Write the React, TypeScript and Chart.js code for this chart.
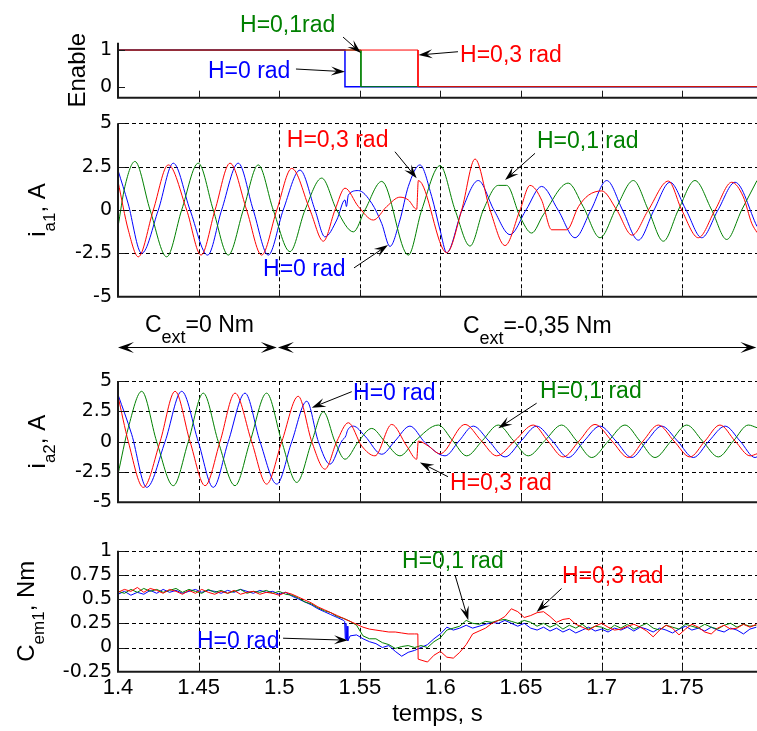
import React, { useEffect, useRef } from 'react';
import { Chart, registerables } from 'chart.js';
Chart.register(...registerables);

const FONT = '"Liberation Sans", Arial, Helvetica, sans-serif';
const TICK_FONT = '"DejaVu Sans", Verdana, sans-serif';
const RED = '#FF0000';
const GREEN = '#008000';
const BLUE = '#0000FF';

const X_MIN = 1.4;
const X_MAX = 1.7964;
const X_TICKS = [1.4, 1.45, 1.5, 1.55, 1.6, 1.65, 1.7, 1.75];
const X_TICK_LABELS = ['1.4', '1.45', '1.5', '1.55', '1.6', '1.65', '1.7', '1.75'];

// ---- Enable ----
const enRedT = [1.4, 1.5861, 1.5861, 1.7964];
const enRedV = [1, 1, 0, 0];
const enGreenT = [1.4, 1.5507, 1.5507, 1.7964];
const enGreenV = [1, 1, 0, 0];
const enBlueT = [1.4, 1.5408, 1.5408, 1.7964];
const enBlueV = [1, 1, 0, 0];

// ---- i_a1 ----
const ia1RedT = [1.4000,1.4064,1.4126,1.4219,1.4312,1.4426,1.4515,1.4602,1.4695,1.4798,1.4891,1.4985,1.5078,1.5191,1.5274,1.5346,1.5408,1.5491,1.5584,1.5667,1.5749,1.5801,1.5853,1.5863,1.6039,1.6132,1.6215,1.6308,1.6401,1.6494,1.6556,1.6628,1.6690,1.6784,1.6856,1.6918,1.7001,1.7094,1.7189,1.7290,1.7414,1.7497,1.7600,1.7704,1.7807,1.7879,1.7931,1.7964];
const ia1RedV = [1.65,-1.16,-2.7,0,2.6,0,-2.6,0,2.7,0,-2.6,0,2.4,0,-1.8,0,1.26,0.2,-0.58,0.2,0.74,0.58,0.04,1.7,-2.46,0,2.94,0,-2.05,0,1.42,0.57,-1.14,-1.14,0.19,0.85,1.1,0,-1.45,0,1.67,0,-1.6,0,1.6,0.76,-0.76,-1.3];
const ia1BlueT = [1.4000,1.4062,1.4147,1.4250,1.4343,1.4447,1.4556,1.4643,1.4746,1.4839,1.4932,1.5025,1.5129,1.5222,1.5284,1.5357,1.5408,1.5417,1.5429,1.5491,1.5574,1.5636,1.5687,1.5749,1.5801,1.5873,1.5946,1.5998,1.6039,1.6134,1.6235,1.6332,1.6432,1.6531,1.6628,1.6730,1.6835,1.6934,1.7032,1.7130,1.7228,1.7325,1.7424,1.7524,1.7621,1.7722,1.7828,1.7964];
const ia1BlueV = [2.3,0.4,-2.5,0,2.7,0,-2.6,0,2.7,0,-2.6,0,2.3,0,-1.55,-0.58,0.58,0.2,0.87,1.12,0.39,-0.78,-2.1,-0.58,1.36,2.6,0.78,-1.16,-2.46,0,1.7,0,-1.42,0,1.36,0,-1.6,0,1.7,0,-1.74,0,1.6,0,-1.6,0,1.6,-0.95];
const ia1GreenT = [1.4000,1.4043,1.4105,1.4199,1.4302,1.4395,1.4498,1.4591,1.4684,1.4777,1.4870,1.4963,1.5067,1.5160,1.5264,1.5357,1.5460,1.5532,1.5636,1.5801,1.5884,1.5998,1.6091,1.6184,1.6266,1.6359,1.6411,1.6494,1.6566,1.6638,1.6793,1.6886,1.6990,1.7094,1.7197,1.7290,1.7383,1.7476,1.7579,1.7683,1.7776,1.7869,1.7964];
const ia1GreenV = [-0.97,1.36,2.8,0,-2.7,0,2.7,0,-2.6,0,2.6,0,-2.4,0,1.84,0,-1.26,0,1.65,-2.6,0,2.56,0,-2.08,0,1.42,1.42,-0.38,-1.33,-0.28,1.55,0.19,-1.6,0.19,1.7,0,-1.8,0,1.7,0,-1.7,0,1.7];

// ---- i_a2 ----
const ia2RedT = [1.4000,1.4064,1.4157,1.4261,1.4354,1.4447,1.4540,1.4633,1.4726,1.4829,1.4922,1.5016,1.5118,1.5202,1.5284,1.5357,1.5429,1.5512,1.5594,1.5698,1.5791,1.5853,1.5863,1.5925,1.5998,1.6153,1.6252,1.6349,1.6463,1.6576,1.6667,1.6762,1.6860,1.6959,1.7064,1.7166,1.7257,1.7352,1.7449,1.7548,1.7641,1.7734,1.7828,1.7921,1.7964];
const ia2RedV = [3.75,0,-3.77,0,4.15,0,-3.63,0,4.0,0,-3.5,0,3.74,0,-2.27,0,1.56,-0.36,-1.17,1.42,-0.36,-1.45,0.05,-0.36,-1.0,1.42,0.1,-1.17,0.1,1.37,0.05,-1.26,0.05,1.42,0.05,-1.31,0.05,1.37,0.05,-1.26,0.05,1.37,0.05,-1.17,-1.0];
const ia2BlueT = [1.4000,1.4085,1.4178,1.4292,1.4395,1.4498,1.4591,1.4684,1.4788,1.4881,1.4985,1.5078,1.5171,1.5243,1.5315,1.5388,1.5414,1.5423,1.5460,1.5532,1.5636,1.5718,1.5811,1.5905,1.6029,1.6115,1.6204,1.6301,1.6401,1.6500,1.6597,1.6695,1.6793,1.6891,1.6990,1.7089,1.7187,1.7280,1.7373,1.7471,1.7569,1.7666,1.7766,1.7859,1.7952,1.7964];
const ia2BlueV = [3.88,0.6,-3.77,0,4.15,0,-3.77,0,4.0,0,-3.5,0,3.33,0,-1.86,0.05,0.5,0.9,1.28,0.46,-1.04,0.05,1.28,-0.08,-1.17,0.05,1.28,0.05,-1.26,0.05,1.28,0.05,-1.31,0.05,1.28,0.05,-1.31,0.05,1.28,0.05,-1.31,0.05,1.28,0.05,-1.31,-1.25];
const ia2GreenT = [1.4000,1.4064,1.4147,1.4240,1.4343,1.4436,1.4529,1.4622,1.4726,1.4819,1.4922,1.5016,1.5109,1.5202,1.5274,1.5346,1.5408,1.5491,1.5574,1.5656,1.5749,1.5842,1.5987,1.6075,1.6163,1.6261,1.6359,1.6452,1.6545,1.6649,1.6752,1.6846,1.6939,1.7042,1.7145,1.7238,1.7331,1.7431,1.7528,1.7626,1.7724,1.7817,1.7910,1.7964];
const ia2GreenV = [-2.68,1.15,4.15,0,-3.63,0,4.0,0,-3.63,0,4.0,0,-3.36,0,2.46,0,-1.45,0,1.09,0,-1.17,0.05,1.37,0.1,-1.17,0.1,1.37,0.1,-1.17,0.1,1.37,0.05,-1.31,0.05,1.37,0.05,-1.31,0.05,1.37,0.05,-1.26,0.05,1.37,1.15];

// ---- C_em1 ----
const cemT = [1.400,1.404,1.408,1.412,1.416,1.420,1.424,1.428,1.432,1.436,1.440,1.444,1.448,1.452,1.456,1.460,1.464,1.468,1.472,1.476,1.480,1.484,1.488,1.492,1.496,1.500,1.504,1.508,1.512,1.516,1.520,1.524,1.528,1.532,1.536,1.540,1.544,1.548,1.552,1.556,1.560,1.564,1.568,1.572,1.576,1.580,1.584,1.588,1.592,1.596,1.600,1.604,1.608,1.612,1.616,1.620,1.624,1.628,1.632,1.636,1.640,1.644,1.648,1.652,1.656,1.660,1.664,1.668,1.672,1.676,1.680,1.684,1.688,1.692,1.696,1.700,1.704,1.708,1.712,1.716,1.720,1.724,1.728,1.732,1.736,1.740,1.744,1.748,1.752,1.756,1.760,1.764,1.768,1.772,1.776,1.780,1.784,1.788,1.792,1.796];
const cemRedV = [0.57,0.60,0.58,0.62,0.57,0.61,0.59,0.56,0.60,0.58,
  0.55,0.59,0.56,0.60,0.57,0.55,0.58,0.56,0.59,0.55,
  0.57,0.58,0.55,0.57,0.56,0.54,0.57,0.55,0.52,0.49,
  0.46,0.42,0.39,0.36,0.33,0.30,0.27,0.24,0.21,0.19,
  0.18,0.17,0.16,0.16,0.15,0.14,0.14,-0.13,-0.15,-0.08,
  -0.04,-0.10,-0.11,-0.05,0.03,0.14,0.17,0.20,0.25,0.28,
  0.32,0.40,0.37,0.31,0.33,0.36,0.37,0.32,0.26,0.29,
  0.30,0.24,0.21,0.18,0.22,0.25,0.21,0.18,0.19,0.22,
  0.24,0.21,0.17,0.11,0.18,0.23,0.20,0.13,0.19,0.24,
  0.21,0.16,0.14,0.20,0.23,0.19,0.20,0.24,0.21,0.24];
const cemGreenV = [0.58,0.56,0.60,0.57,0.61,0.58,0.60,0.57,0.59,0.61,
  0.57,0.60,0.58,0.56,0.60,0.57,0.59,0.56,0.58,0.60,
  0.56,0.58,0.57,0.59,0.56,0.58,0.55,0.54,0.51,0.47,
  0.45,0.41,0.38,0.36,0.32,0.30,0.27,0.23,0.12,0.09,
  0.09,0.05,0.03,-0.01,0.01,0.02,0.00,0.02,0.00,0.06,
  0.10,0.18,0.20,0.22,0.28,0.25,0.24,0.27,0.26,0.28,
  0.29,0.27,0.25,0.28,0.26,0.22,0.25,0.21,0.24,0.19,
  0.23,0.20,0.24,0.19,0.22,0.21,0.18,0.23,0.20,0.24,
  0.19,0.22,0.25,0.20,0.18,0.23,0.21,0.19,0.24,0.22,
  0.20,0.24,0.21,0.19,0.23,0.25,0.21,0.24,0.22,0.23];
const cemBlueV = [0.55,0.58,0.54,0.57,0.55,0.59,0.56,0.60,0.57,0.59,
  0.56,0.58,0.60,0.57,0.59,0.58,0.56,0.59,0.57,0.60,
  0.58,0.56,0.59,0.57,0.58,0.55,0.57,0.53,0.50,0.47,
  0.44,0.40,0.37,0.34,0.31,0.28,0.12,0.13,0.09,0.06,
  0.04,0.00,0.02,-0.04,-0.09,-0.05,-0.03,0.00,0.03,0.09,
  0.14,0.21,0.18,0.20,0.23,0.20,0.22,0.24,0.26,0.25,
  0.28,0.25,0.22,0.25,0.20,0.18,0.21,0.17,0.20,0.16,
  0.19,0.15,0.18,0.21,0.17,0.19,0.16,0.20,0.18,0.21,
  0.17,0.21,0.19,0.16,0.20,0.18,0.15,0.19,0.22,0.18,
  0.20,0.17,0.21,0.18,0.16,0.20,0.18,0.14,0.19,0.21];
// extra samples at the switching instants (vertical jumps)
const cemRedJumpT = [1.5860, 1.5862];
const cemRedJumpV = [0.14, -0.12];
const cemBlueJumpT = [1.5406, 1.5410, 1.5414, 1.5418, 1.5422, 1.5426];
const cemBlueJumpV = [0.27, 0.09, 0.25, 0.08, 0.22, 0.07];

// ---- annotations (data coordinates of each panel) ----
type Note = { text: string; color: string; at: [number, number]; from: [number, number]; to: [number, number] };
const P1_NOTES: Note[] = [
  { text: 'H=0,1rad', color: GREEN, at: [1.4757, 1.499], from: [1.5396, 1.354], to: [1.5507, 0.92] },
  { text: 'H=0 rad', color: BLUE, at: [1.4558, 0.237], from: [1.5104, 0.482], to: [1.5408, 0.409] },
  { text: 'H=0,3 rad', color: RED, at: [1.6122, 0.681], from: [1.6109, 0.954], to: [1.5864, 0.864] },
];
const P2_NOTES: Note[] = [
  { text: 'H=0,3 rad', color: RED, at: [1.5047, 3.63], from: [1.5718, 3.36], to: [1.5853, 1.83] },
  { text: 'H=0 rad', color: BLUE, at: [1.4900, -3.83], from: [1.5464, -3.34], to: [1.5675, -2.02] },
  { text: 'H=0,1 rad', color: GREEN, at: [1.6599, 3.58], from: [1.6587, 3.27], to: [1.6401, 1.73] },
];
const P3_NOTES: Note[] = [
  { text: 'H=0 rad', color: BLUE, at: [1.5458, 3.44], from: [1.5450, 4.12], to: [1.5202, 2.80] },
  { text: 'H=0,1 rad', color: GREEN, at: [1.6618, 3.60], from: [1.6597, 3.17], to: [1.6359, 1.10] },
  { text: 'H=0,3 rad', color: RED, at: [1.6060, -3.98], from: [1.6047, -2.89], to: [1.5873, -1.71] },
];
const P4_NOTES: Note[] = [
  { text: 'H=0 rad', color: BLUE, at: [1.4490, -0.007], from: [1.5024, 0.096], to: [1.5427, 0.075] },
  { text: 'H=0,1 rad', color: GREEN, at: [1.5762, 0.819], from: [1.6091, 0.747], to: [1.6173, 0.282] },
  { text: 'H=0,3 rad', color: RED, at: [1.6754, 0.664], from: [1.6752, 0.61], to: [1.6597, 0.368] },
];
// load-torque bracket, drawn in the i_a2 panel's coordinates
const CEXT_Y = 7.83;
const CEXT_SEGMENTS: [number, number][] = [[1.4, 1.4985], [1.4992, 1.7960]];
const CEXT_TEXTS = [
  { parts: [{ t: 'C' }, { t: 'ext', sub: true }, { t: '=0 Nm' }], at: [1.4167, 9.07] },
  { parts: [{ t: 'C' }, { t: 'ext', sub: true }, { t: '=-0,35 Nm' }], at: [1.6140, 8.99] },
];

type Part = { t: string; sub?: boolean };
type Series = { t: number[]; v: number[]; color: string; width?: number };
type Panel = {
  top: number; bottom: number; yMin: number; yMax: number;
  yTicks: number[]; yLabels: string[]; grid: boolean; xLabels: boolean; smooth: boolean;
  title: Part[]; titleX: number; series: Series[]; notes: Note[]; cext?: boolean;
};

function merge(t: number[], v: number[], et: number[], ev: number[]) {
  const pts = t.map((x, i) => [x, v[i]]).concat(et.map((x, i) => [x, ev[i]]));
  pts.sort((a, b) => a[0] - b[0]);
  return { t: pts.map(p => p[0]), v: pts.map(p => p[1]) };
}
const cemRed = merge(cemT, cemRedV, cemRedJumpT, cemRedJumpV);
const cemBlue = merge(cemT, cemBlueV, cemBlueJumpT, cemBlueJumpV);

const PANELS: Panel[] = [
  {
    top: 42.7, bottom: 97.7, yMin: -0.3, yMax: 1.2, yTicks: [0, 1], yLabels: ['0', '1'],
    grid: false, xLabels: false, smooth: false, title: [{ t: 'Enable' }], titleX: 85,
    series: [{ t: enRedT, v: enRedV, color: RED }, { t: enGreenT, v: enGreenV, color: GREEN }, { t: enBlueT, v: enBlueV, color: BLUE, width: 1.5 }],
    notes: P1_NOTES,
  },
  {
    top: 123.3, bottom: 296.7, yMin: -5, yMax: 5, yTicks: [-5, -2.5, 0, 2.5, 5], yLabels: ['-5', '-2.5', '0', '2.5', '5'],
    grid: true, xLabels: false, smooth: true, title: [{ t: 'i' }, { t: 'a1', sub: true }, { t: ', A' }], titleX: 45,
    series: [{ t: ia1RedT, v: ia1RedV, color: RED }, { t: ia1GreenT, v: ia1GreenV, color: GREEN }, { t: ia1BlueT, v: ia1BlueV, color: BLUE }],
    notes: P2_NOTES,
  },
  {
    top: 381, bottom: 502.3, yMin: -5, yMax: 5, yTicks: [-5, -2.5, 0, 2.5, 5], yLabels: ['-5', '-2.5', '0', '2.5', '5'],
    grid: true, xLabels: false, smooth: true, title: [{ t: 'i' }, { t: 'a2', sub: true }, { t: ', A' }], titleX: 45,
    series: [{ t: ia2RedT, v: ia2RedV, color: RED }, { t: ia2GreenT, v: ia2GreenV, color: GREEN }, { t: ia2BlueT, v: ia2BlueV, color: BLUE }],
    notes: P3_NOTES, cext: true,
  },
  {
    top: 550.7, bottom: 671.7, yMin: -0.25, yMax: 1, yTicks: [-0.25, 0, 0.25, 0.5, 0.75, 1], yLabels: ['-0.25', '0', '0.25', '0.5', '0.75', '1'],
    grid: true, xLabels: true, smooth: false, title: [{ t: 'C' }, { t: 'em1', sub: true }, { t: ', Nm' }], titleX: 34,
    series: [{ t: cemRed.t, v: cemRed.v, color: RED }, { t: cemT, v: cemGreenV, color: GREEN }, { t: cemBlue.t, v: cemBlue.v, color: BLUE }],
    notes: P4_NOTES,
  },
];

const W = 757;
const H = 731;

function zip(t: number[], v: number[]) {
  return t.map((x, i) => ({ x, y: v[i] }));
}

function drawRich(ctx: CanvasRenderingContext2D, parts: Part[], x: number, y: number, main: number, sub: number, drop: number, center: boolean) {
  const widths = parts.map(p => { ctx.font = `${p.sub ? sub : main}px ${FONT}`; return ctx.measureText(p.t).width; });
  const total = widths.reduce((a, b) => a + b, 0);
  let cx = center ? x - total / 2 : x;
  ctx.textAlign = 'left';
  ctx.textBaseline = 'alphabetic';
  parts.forEach((p, i) => {
    ctx.font = `${p.sub ? sub : main}px ${FONT}`;
    ctx.fillText(p.t, cx, y + (p.sub ? drop : 0));
    cx += widths[i];
  });
}

function head(ctx: CanvasRenderingContext2D, x: number, y: number, ang: number, L: number, Wd: number, notch: number) {
  ctx.save();
  ctx.translate(x, y);
  ctx.rotate(ang);
  ctx.beginPath();
  ctx.moveTo(0, 0);
  ctx.lineTo(-L, -Wd);
  ctx.lineTo(-L * notch, 0);
  ctx.lineTo(-L, Wd);
  ctx.closePath();
  ctx.fill();
  ctx.restore();
}

function makeDecor(p: Panel) {
  return {
    id: 'decor',
    beforeDatasetsDraw(chart: any) {
      const { ctx, chartArea: a, scales } = chart;
      const xs = scales.x, ys = scales.y;
      if (!p.grid) return;
      ctx.save();
      ctx.strokeStyle = '#000';
      ctx.lineWidth = 1;
      ctx.setLineDash([4, 3]);
      ctx.beginPath();
      for (const t of X_TICKS) {
        if (t <= X_MIN) continue;
        const px = Math.round(xs.getPixelForValue(t)) + 0.5;
        ctx.moveTo(px, a.top); ctx.lineTo(px, a.bottom);
      }
      for (const v of p.yTicks) {
        if (v <= p.yMin) continue;
        const py = Math.round(ys.getPixelForValue(v)) + 0.5;
        ctx.moveTo(a.left, py); ctx.lineTo(a.right, py);
      }
      ctx.stroke();
      ctx.restore();
    },
    afterDatasetsDraw(chart: any) {
      const { ctx, chartArea: a, scales } = chart;
      const xs = scales.x, ys = scales.y;
      const X = (t: number) => xs.getPixelForValue(t);
      const Y = (v: number) => ys.getPixelForValue(v);
      ctx.save();
      // axes
      ctx.strokeStyle = '#1a1a1a';
      ctx.lineWidth = 2;
      ctx.setLineDash([]);
      ctx.beginPath();
      ctx.moveTo(a.left, a.top); ctx.lineTo(a.left, a.bottom); ctx.lineTo(a.right, a.bottom);
      ctx.stroke();
      // inward ticks
      ctx.lineWidth = 1;
      ctx.beginPath();
      for (const t of X_TICKS) {
        if (t <= X_MIN) continue;
        const px = Math.round(X(t)) + 0.5;
        ctx.moveTo(px, a.bottom); ctx.lineTo(px, a.bottom - 7);
      }
      for (const v of p.yTicks) {
        if (v <= p.yMin) continue;
        const py = Math.round(Y(v)) + 0.5;
        ctx.moveTo(a.left, py); ctx.lineTo(a.left + 7, py);
      }
      ctx.stroke();
      // y title (rotated)
      ctx.fillStyle = '#000';
      ctx.save();
      ctx.translate(p.titleX, (a.top + a.bottom) / 2);
      ctx.rotate(-Math.PI / 2);
      drawRich(ctx, p.title, 0, 0, 24, 17, 10, true);
      ctx.restore();
      // x title
      if (p.xLabels) {
        ctx.font = `24px ${FONT}`;
        ctx.textAlign = 'center';
        ctx.textBaseline = 'alphabetic';
        ctx.fillText('temps, s', (a.left + a.right) / 2, a.bottom + 49.5);
      }
      // notes
      for (const n of p.notes) {
        ctx.fillStyle = n.color;
        ctx.font = `23px ${FONT}`;
        ctx.textAlign = 'left';
        ctx.textBaseline = 'alphabetic';
        ctx.fillText(n.text, X(n.at[0]), Y(n.at[1]));
        const x1 = X(n.from[0]), y1 = Y(n.from[1]), x2 = X(n.to[0]), y2 = Y(n.to[1]);
        const ang = Math.atan2(y2 - y1, x2 - x1);
        ctx.strokeStyle = '#000';
        ctx.fillStyle = '#000';
        ctx.lineWidth = 1;
        ctx.beginPath();
        ctx.moveTo(x1, y1);
        ctx.lineTo(x2 - Math.cos(ang) * 8, y2 - Math.sin(ang) * 8);
        ctx.stroke();
        head(ctx, x2, y2, ang, 14, 4.5, 0.6);
      }
      // load torque bracket
      if (p.cext) {
        ctx.strokeStyle = '#000';
        ctx.fillStyle = '#000';
        ctx.lineWidth = 1;
        const yy = Math.round(Y(CEXT_Y)) + 0.5;
        for (const [t1, t2] of CEXT_SEGMENTS) {
          const x1 = X(t1), x2 = X(t2);
          ctx.beginPath();
          ctx.moveTo(x1 + 6, yy); ctx.lineTo(x2 - 6, yy);
          ctx.stroke();
          head(ctx, x1, yy, Math.PI, 16, 5.5, 0.55);
          head(ctx, x2, yy, 0, 16, 5.5, 0.55);
        }
        for (const c of CEXT_TEXTS) {
          drawRich(ctx, c.parts, X(c.at[0]), Y(c.at[1]), 23, 18, 11, false);
        }
      }
      ctx.restore();
    },
  };
}

function buildConfig(p: Panel): any {
  const xBox = p.xLabels ? H - p.bottom : 0;
  return {
    type: 'line',
    data: {
      datasets: p.series.map(s => ({
        data: zip(s.t, s.v),
        borderColor: s.color,
        borderWidth: s.width || 1,
        pointRadius: 0,
        fill: false,
        tension: 0,
        cubicInterpolationMode: p.smooth ? 'monotone' : 'default',
      })),
    },
    options: {
      animation: false,
      responsive: false,
      devicePixelRatio: 1,
      events: [],
      layout: { padding: { left: 0, right: 0, top: p.top, bottom: H - p.bottom - xBox } },
      plugins: { legend: { display: false }, tooltip: { enabled: false }, title: { display: false } },
      scales: {
        x: {
          type: 'linear', min: X_MIN, max: X_MAX,
          afterBuildTicks: (s: any) => { s.ticks = X_TICKS.map(v => ({ value: v })); },
          afterFit: (s: any) => { s.height = xBox; },
          ticks: {
            display: p.xLabels, autoSkip: false, maxRotation: 0, minRotation: 0, padding: 3, color: '#000',
            font: { family: FONT, size: 22 },
            callback: (_v: any, i: number) => X_TICK_LABELS[i],
          },
          grid: { display: false, drawTicks: false },
          border: { display: false },
        },
        y: {
          type: 'linear', min: p.yMin, max: p.yMax,
          afterBuildTicks: (s: any) => { s.ticks = p.yTicks.map(v => ({ value: v })); },
          afterFit: (s: any) => { s.width = 118; },
          ticks: {
            autoSkip: false, padding: 6, color: '#000',
            font: { family: TICK_FONT, size: 19 },
            callback: (_v: any, i: number) => p.yLabels[i],
          },
          grid: { display: false, drawTicks: false },
          border: { display: false },
        },
      },
    },
    plugins: [makeDecor(p)],
  };
}

export default function App() {
  const r0 = useRef<HTMLCanvasElement>(null);
  const r1 = useRef<HTMLCanvasElement>(null);
  const r2 = useRef<HTMLCanvasElement>(null);
  const r3 = useRef<HTMLCanvasElement>(null);
  const refs = [r0, r1, r2, r3];
  useEffect(() => {
    const charts = PANELS.map((p, i) => new Chart(refs[i].current as HTMLCanvasElement, buildConfig(p)));
    return () => charts.forEach(c => c.destroy());
  }, []);
  return (
    <div style={{ position: 'fixed', left: 0, top: 0, width: W, height: H, overflow: 'hidden', background: '#fff' }}>
      {PANELS.map((_p, i) => (
        <canvas key={i} ref={refs[i]} width={W} height={H}
          style={{ position: 'absolute', left: 0, top: 0, width: W, height: H }} />
      ))}
    </div>
  );
}
